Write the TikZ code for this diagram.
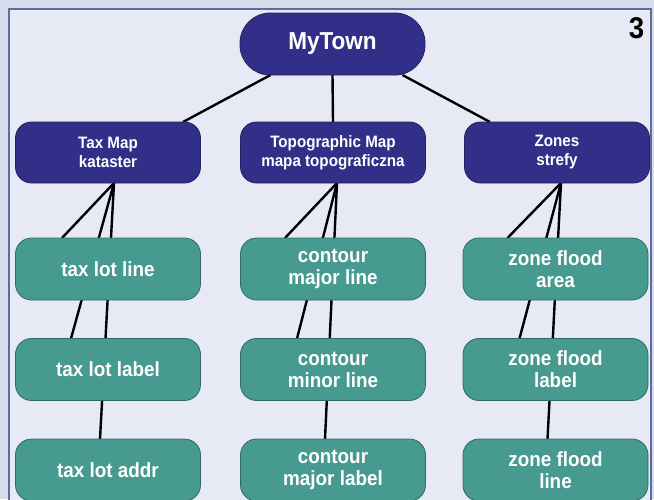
\documentclass[tikz,border=0pt]{standalone}
\usepackage{fontspec}
\setmainfont{Liberation Sans}
\newfontfamily\narrowsans[FakeStretch=0.92]{Liberation Sans}
\usepackage{xcolor}
\usepackage{tikz}
\definecolor{navy}{HTML}{312F88}
\definecolor{navyedge}{HTML}{24235F}
\definecolor{teal}{HTML}{469A8F}
\definecolor{tealedge}{HTML}{2F6B64}
\definecolor{paper}{HTML}{E7EAF4}
\definecolor{margin}{HTML}{D5DCEA}
\definecolor{rim}{HTML}{5C6BA2}
\pgfdeclarelayer{back}
\pgfdeclarelayer{wires}
\pgfsetlayers{back,wires,main}

\begin{document}
\begin{tikzpicture}[x=1pt, y=-1pt, line join=round,
    town/.style={rounded corners=30pt, draw=navyedge, fill=navy, line width=0.8pt,
                 minimum width=185pt, minimum height=62pt, inner sep=0pt, outer sep=0pt,
                 text=white, font=\narrowsans\fontsize{24.5}{28}\selectfont\bfseries},
    grp/.style={rounded corners=16pt, draw=navyedge, fill=navy, line width=0.8pt,
                minimum width=185pt, minimum height=61pt, inner sep=0pt, outer sep=0pt,
                align=center, text=white, font=\narrowsans\fontsize{16.5}{19}\selectfont\bfseries},
    lyr/.style={rounded corners=16pt, draw=tealedge, fill=teal, line width=0.8pt,
                minimum width=185pt, minimum height=62pt, inner sep=0pt, outer sep=0pt,
                align=center, text=white, font=\narrowsans\fontsize{20.5}{22}\selectfont\bfseries},
    wire/.style={line width=2.4pt, black}]
  \useasboundingbox (0,0) rectangle (654,499);
  \clip (0,0) rectangle (654,499);
  \begin{pgfonlayer}{back}
    \fill[margin] (0,0) rectangle (654,499);
    \draw[rim, line width=1.6pt, fill=paper] (9,9) rectangle (651,530);
  \end{pgfonlayer}
  \node[town] (town) at (332.5,44) {MyTown};
  \node[grp] (tax)  at (108,152.5) {Tax Map\\kataster};
  \node[grp] (topo) at (333,152.5) {Topographic Map\\mapa topograficzna};
  \node[grp] (zone) at (557,152.5) {Zones\\strefy};
  \node[lyr] (taxline)  at (108,269)   {tax lot line};
  \node[lyr] (taxlabel) at (108,369.5) {tax lot label};
  \node[lyr] (taxaddr)  at (108,470)   {tax lot addr};
  \node[lyr] (cmajor)   at (333,269)   {contour\\major line};
  \node[lyr] (cminor)   at (333,369.5) {contour\\minor line};
  \node[lyr] (cmlabel)  at (333,470)   {contour\\major label};
  \node[lyr] (zarea)    at (555.5,269)   {zone flood\\area};
  \node[lyr] (zlabel)   at (555.5,369.5) {zone flood\\label};
  \node[lyr] (zline)    at (555.5,470)   {zone flood\\line};
  \node[font=\narrowsans\fontsize{30}{30}\selectfont\bfseries] (num) at (636.5,28) {3};
  % connectors run behind the boxes
  \begin{pgfonlayer}{wires}
    \draw[wire] ([xshift=-62pt]town.south) -- ([xshift=75pt]tax.north);
    \draw[wire] (town.south) -- (topo.north);
    \draw[wire] ([xshift=70pt]town.south) -- ([xshift=-67pt]zone.north);
    \draw[wire] ([xshift=6pt]tax.south) -- ([xshift=-46pt]taxline.north);
    \draw[wire] ([xshift=6pt]tax.south) -- ([xshift=-37pt]taxlabel.north);
    \draw[wire] ([xshift=6pt]tax.south) -- ([xshift=-8pt]taxaddr.north);
    \draw[wire] ([xshift=4pt]topo.south) -- ([xshift=-48pt]cmajor.north);
    \draw[wire] ([xshift=4pt]topo.south) -- ([xshift=-36pt]cminor.north);
    \draw[wire] ([xshift=4pt]topo.south) -- ([xshift=-8pt]cmlabel.north);
    \draw[wire] ([xshift=4pt]zone.south) -- ([xshift=-48pt]zarea.north);
    \draw[wire] ([xshift=4pt]zone.south) -- ([xshift=-36pt]zlabel.north);
    \draw[wire] ([xshift=4pt]zone.south) -- ([xshift=-8pt]zline.north);
  \end{pgfonlayer}
\end{tikzpicture}
\end{document}
